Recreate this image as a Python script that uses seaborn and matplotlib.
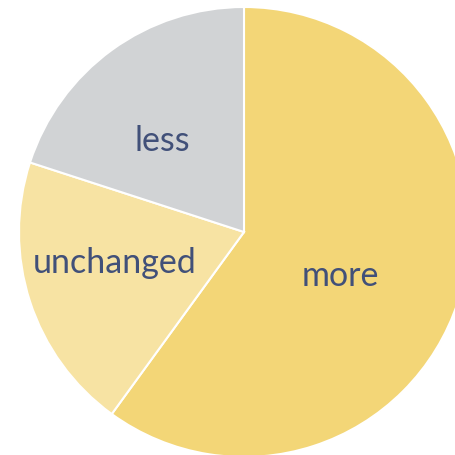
import matplotlib
matplotlib.use("Agg")
import matplotlib.pyplot as plt
import seaborn as sns

categories = ["more", "unchanged", "less"]
shares = [60, 20, 20]
colors = ["#F3D677", "#F7E3A3", "#D1D3D5"]
label_pos = [(0.427, -0.191), (-0.573, -0.133), (-0.364, 0.409)]

sns.set_theme(style="white")
plt.rcParams['font.family'] = ['Lato', 'DejaVu Sans']

fig = plt.figure(figsize=(4.55, 4.56), dpi=100)
ax = fig.add_axes([19/455, -2/456, 450/455, 450/456])
wedges, texts = ax.pie(shares, labels=categories, colors=colors, startangle=90,
                       counterclock=False, radius=1.0, labeldistance=0.5,
                       wedgeprops=dict(edgecolor="white", linewidth=1.5),
                       textprops=dict(color="#415079", fontsize=24.5))
for t, p in zip(texts, label_pos):
    t.set_position(p)
    t.set_ha("center")
    t.set_va("center")
ax.set_xlim(-1, 1)
ax.set_ylim(-1, 1)
ax.set_aspect("equal")
ax.axis("off")
fig.savefig("out.png", dpi=100)
